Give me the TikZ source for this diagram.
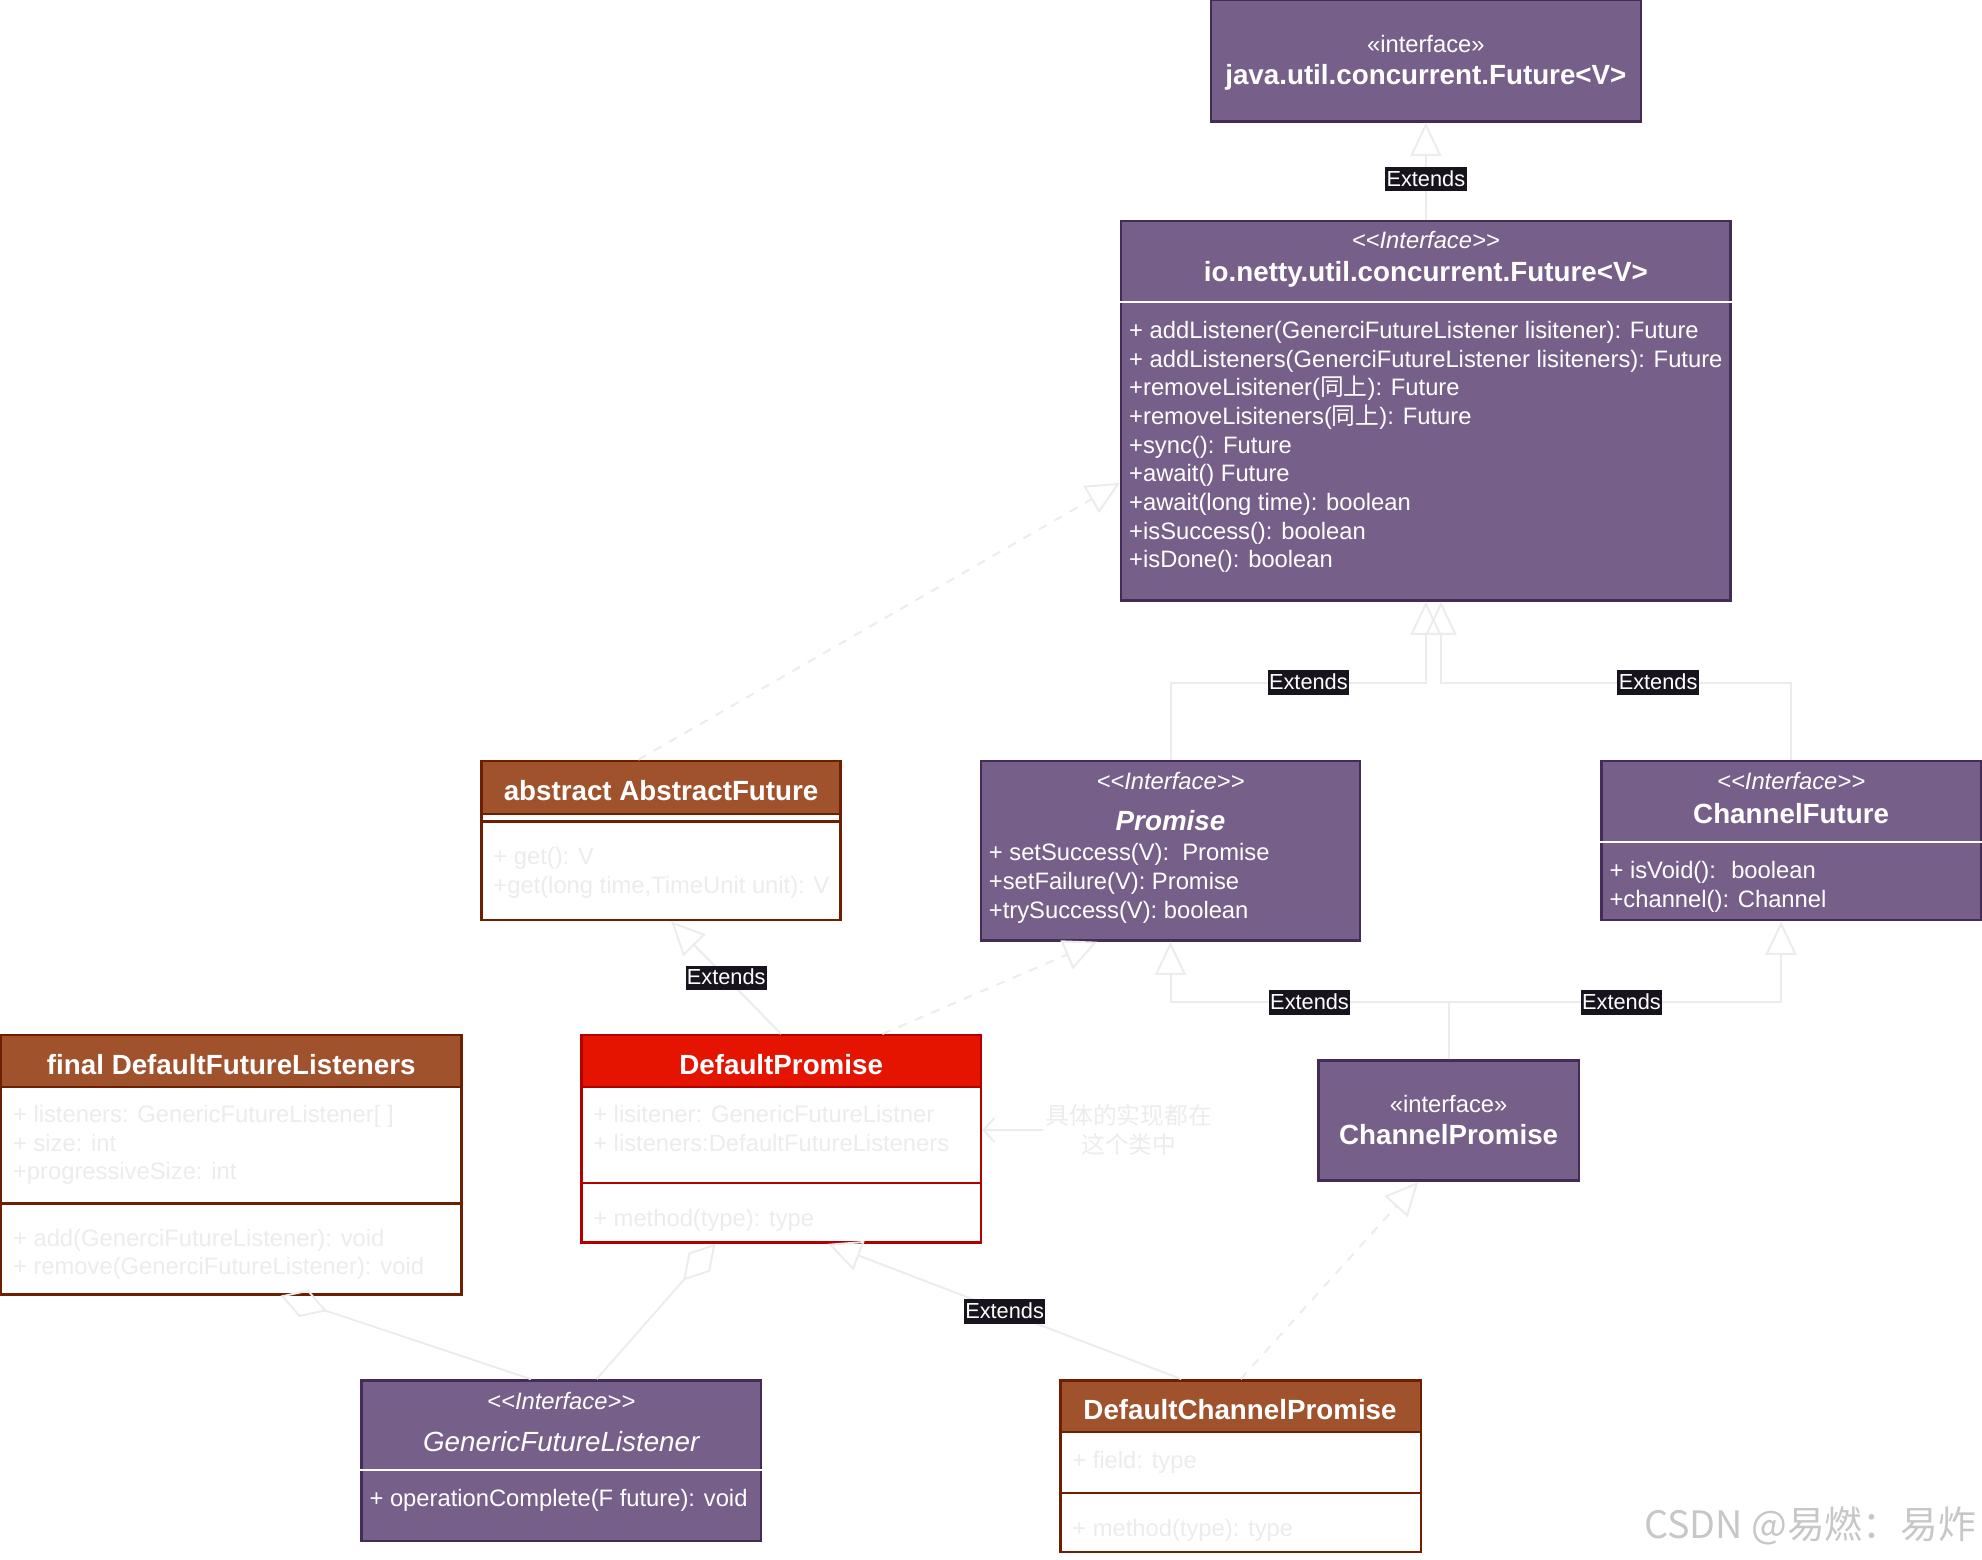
\documentclass[tikz,border=0pt]{standalone}
\usepackage{fontspec}
\setmainfont{Liberation Sans}
\newfontfamily\cjk{Noto Sans CJK SC}
\usepackage{tikz}
\usetikzlibrary{arrows.meta,calc,fit}
\definecolor{ifacefill}{HTML}{76608A}
\definecolor{ifaceline}{HTML}{432D57}
\definecolor{siennafill}{HTML}{A0522D}
\definecolor{siennaline}{HTML}{6D1F00}
\definecolor{redfill}{HTML}{E51400}
\definecolor{redline}{HTML}{B20000}
\definecolor{faint}{HTML}{ECECEC}
\definecolor{lblback}{HTML}{18141D}
\newcommand{\fbody}{\fontsize{10.7pt}{12.9pt}\selectfont}
\newcommand{\fhead}{\fontsize{12.5pt}{15pt}\selectfont\bfseries}
\newcommand{\flbl}{\fontsize{9.8pt}{11pt}\selectfont}
\newcommand{\ifacetag}{<\kern0pt<Interface>\kern0pt>}
\tikzset{
  iface/.style={
    draw=ifaceline,
    fill=ifacefill,
    line width=1.1pt,
    inner sep=0pt
  },
  klass/.style={
    draw=#1line,
    fill=white,
    line width=1.1pt,
    inner sep=0pt
  },
  header/.style={
    draw=#1line,
    fill=#1fill,
    line width=1.1pt,
    inner sep=0pt
  },
  stereo/.style={
    text=white,
    font=\fbody\itshape,
    inner sep=0pt
  },
  ttl/.style={
    text=white,
    font=\fhead,
    inner sep=0pt,
    text height=9.2pt,
    text depth=0pt
  },
  members/.style={
    anchor=north west,
    align=left,
    inner sep=0pt,
    font=\fbody,
    text=white
  },
  lbl/.style={
    fill=lblback,
    text=white,
    font=\flbl,
    inner xsep=0.6pt,
    inner ysep=1.3pt,
    text height=7.4pt,
    text depth=1pt
  },
  ext/.style={
    draw=faint,
    line width=0.9pt,
    -{Triangle[open,length=15pt,width=14pt]}
  },
  impl/.style={
    ext,
    dash pattern=on 4pt off 4pt
  },
  agg/.style={
    draw=faint,
    line width=0.9pt,
    -{Diamond[open,length=22pt,width=13pt]}
  },
  notearrow/.style={
    draw=faint,
    line width=0.9pt,
    -{Straight Barb[length=5pt,width=11pt]}
  }
}

\begin{document}
\begin{tikzpicture}[x=0.02cm,y=-0.02cm]
\useasboundingbox (0,0) rectangle (1568,1234);
% java future
\node[iface,fit={(958,0) (1298,96)}] (juf) {};
\node[text=white,font=\fbody,inner sep=0pt] (jufst) at (1128,35) {«interface»};
\node[ttl] (jufti) at (1128,59) {java.util.concurrent.Future<V>};
% netty future
\node[iface,fit={(887,175) (1369,475)}] (nuf) {};
\draw[white,line width=1pt] (nuf.west |- 0,239) -- (nuf.east |- 0,239);
\node[stereo] (nufst) at (1128,190) {\ifacetag};
\node[ttl] (nufti) at (1128,215) {io.netty.util.concurrent.Future<V>};
\node[members] (nufm) at (893,251.7) {\strut+ addListener(GenerciFutureListener lisitener): Future\\
+ addListeners(GenerciFutureListener lisiteners): Future\\
+removeLisitener({\cjk 同上}): Future\\
+removeLisiteners({\cjk 同上}): Future\\
+sync(): Future\\
+await() Future\\
+await(long time): boolean\\
+isSuccess(): boolean\\
+isDone(): boolean};
% abstract future
\node[klass=sienna,fit={(381,602) (665,728)}] (af) {};
\node[header=sienna,fit={(381,602) (665,644)}] (afh) {};
\draw[siennaline,line width=1.1pt] (af.west |- 0,650) -- (af.east |- 0,650);
\node[ttl] (afti) at (523,625) {abstract AbstractFuture};
\node[members,text=faint] (afm) at (390,667.7) {\strut+ get(): V\\
+get(long time,TimeUnit unit): V};
% promise
\node[iface,fit={(776,602) (1076,744)}] (promise) {};
\node[stereo] (promisest) at (926,618) {\ifacetag};
\node[ttl,font=\fhead\itshape] (promiseti) at (926,649) {Promise};
\node[members] (promisem) at (782,664.7) {\strut+ setSuccess(V):~ Promise\\
+setFailure(V): Promise\\
+trySuccess(V): boolean};
% channel future
\node[iface,fit={(1267,602) (1567,728)}] (cf) {};
\draw[white,line width=1pt] (cf.west |- 0,666) -- (cf.east |- 0,666);
\node[stereo] (cfst) at (1417,618) {\ifacetag};
\node[ttl] (cfti) at (1417,643) {ChannelFuture};
\node[members] (cfm) at (1273,678.7) {\strut+ isVoid():~ boolean\\
+channel(): Channel};
% listeners
\node[klass=sienna,fit={(1,819) (365,1024)}] (dfl) {};
\node[header=sienna,fit={(1,819) (365,860)}] (dflh) {};
\draw[siennaline,line width=1.1pt] (dfl.west |- 0,952) -- (dfl.east |- 0,952);
\node[ttl] (dflti) at (183,842) {final DefaultFutureListeners};
\node[members,text=faint] (dfla) at (10,871.7) {\strut+ listeners: GenericFutureListener[ ]\\
+ size: int\\
+progressiveSize: int};
\node[members,text=faint] (dflm) at (10,969.7) {\strut+ add(GenerciFutureListener): void\\
+ remove(GenerciFutureListener): void};
% default promise
\node[klass=red,fit={(460,819) (776,983)}] (dp) {};
\node[header=red,fit={(460,819) (776,860)}] (dph) {};
\draw[redline,line width=1.1pt] (dp.west |- 0,936) -- (dp.east |- 0,936);
\node[ttl] (dpti) at (618,842) {DefaultPromise};
\node[members,text=faint] (dpa) at (469,871.7) {\strut+ lisitener: GenericFutureListner\\
+ listeners:DefaultFutureListeners};
\node[members,text=faint] (dpm) at (469,953.7) {\strut+ method(type): type};
% note
\node[text=faint,font=\fbody\cjk,align=center,inner sep=1pt] (note) at (893,894) {具体的实现都在\\这个类中};
% channel promise
\node[iface,fit={(1043,839) (1249,934)}] (cp) {};
\node[text=white,font=\fbody,inner sep=0pt] (cpst) at (1146,873) {«interface»};
\node[ttl] (cpti) at (1146,897) {ChannelPromise};
% listener interface
\node[iface,fit={(286,1092) (602,1219)}] (gfl) {};
\draw[white,line width=1pt] (gfl.west |- 0,1163) -- (gfl.east |- 0,1163);
\node[stereo] (gflst) at (444,1108) {\ifacetag};
\node[ttl,font=\fontsize{12.5pt}{15pt}\selectfont\itshape] (gflti) at (444,1140) {GenericFutureListener};
\node[members] (gflm) at (292,1175.7) {\strut+ operationComplete(F future): void};
% default channel promise
\node[klass=sienna,fit={(839,1092) (1124,1228)}] (dcp) {};
\node[header=sienna,fit={(839,1092) (1124,1133)}] (dcph) {};
\draw[siennaline,line width=1.1pt] (dcp.west |- 0,1181) -- (dcp.east |- 0,1181);
\node[ttl] (dcpti) at (981,1115) {DefaultChannelPromise};
\node[members,text=faint] (dcpa) at (848,1145.7) {\strut+ field: type};
\node[members,text=faint] (dcpm) at (848,1199.7) {\strut+ method(type): type};
% watermark
\node[text=black!22,font=\cjk\fontsize{17pt}{20pt}\selectfont,inner sep=0pt] (csdn) at (1432,1207) {CSDN @易燃：易炸};
% connectors
\draw[ext] (nuf.north) -- node[lbl,pos=0.42] {Extends} (juf.south);
\draw[ext] (promise.north) |- node[lbl,pos=0.77] {Extends} ($(nuf.south)+(0,64)$) -- (nuf.south);
\draw[ext] (cf.north) |- node[lbl,pos=0.69] {Extends} ($(nuf.south)+(12,64)$) -- ($(nuf.south)+(12,0)$);
\draw[impl] ($(af.north)+(-18,0)$) -- ($(nuf.west)+(0,57)$);
\draw[ext] (dp.north) -- node[lbl] {Extends} ($(af.south)+(8,0)$);
\draw[impl] ($(dp.north)+(80,0)$) -- ($(promise.south)+(-58,0)$);
\draw[ext] (cp.north) |- node[lbl,pos=0.75] {Extends} ($(promise.south)+(0,48)$) -- (promise.south);
\draw[ext] (cp.north) |- node[lbl,pos=0.76] {Extends} ($(cf.south)+(-8,64)$) -- ($(cf.south)+(-8,0)$);
\draw[notearrow] (note.west) -- (note.west -| dp.east);
\draw[ext] ($(dcp.north)+(-47,0)$) -- node[lbl] {Extends} ($(dp.south)+(37,0)$);
\draw[impl] (dcp.north) -- ($(cp.south)+(-24,0)$);
\draw[agg] ($(gfl.north)+(28,0)$) -- ($(dp.south)+(-52,0)$);
\draw[agg] ($(gfl.north)+(-24,0)$) -- ($(dfl.south)+(39,0)$);
\end{tikzpicture}
\end{document}
